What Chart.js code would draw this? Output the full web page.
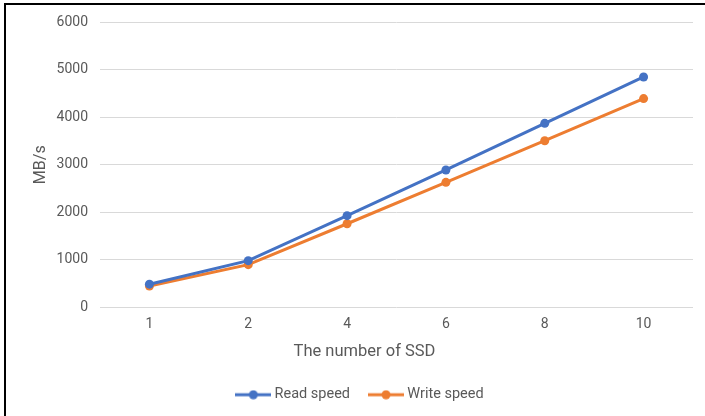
<!DOCTYPE html>
<html>
<head>
<meta charset="utf-8">
<script src="https://cdn.jsdelivr.net/npm/chart.js@4/dist/chart.umd.min.js"></script>
<style>
  body { margin: 0; background: #fff; overflow: hidden; }
  .frame {
    position: absolute; left: 4px; top: 3px;
    width: 740px; height: 460px;
    border: 2px solid #000;
  }
  .wrap { position: absolute; left: 0; top: 0; width: 705px; height: 416px; }
</style>
</head>
<body>
<div class="frame"></div>
<div class="wrap"><canvas id="chart"></canvas></div>
<script>
const categories = ['1', '2', '4', '6', '8', '10']
const readSpeed = [490, 985, 1930, 2890, 3870, 4845]
const writeSpeed = [450, 900, 1760, 2630, 3505, 4390]
const yTicks = [0, 1000, 2000, 3000, 4000, 5000, 6000]

const BLUE = '#4472C4'
const ORANGE = '#ED7D31'
const GREY = '#595959'
const FONT = 'Roboto, "Liberation Sans", sans-serif'

// little line+dot icon for the legend, like the office style
function legendIcon(color) {
  const c = document.createElement('canvas')
  c.width = 36
  c.height = 10
  const ctx = c.getContext('2d')
  ctx.strokeStyle = color
  ctx.lineWidth = 3
  ctx.beginPath()
  ctx.moveTo(0, 5)
  ctx.lineTo(36, 5)
  ctx.stroke()
  ctx.fillStyle = color
  ctx.beginPath()
  ctx.arc(18, 5, 4.5, 0, Math.PI * 2)
  ctx.fill()
  return c
}

const icons = [legendIcon(BLUE), legendIcon(ORANGE)]

// the original has the axis title and legend a bit off centre, nudge them
const nudge = {
  id: 'nudge',
  afterLayout(chart) {
    const x = chart.scales.x
    if (!x._nudged) {
      const drawTitle = x.drawTitle
      x.drawTitle = function() {
        chart.ctx.save()
        chart.ctx.translate(-32, 0)
        drawTitle.apply(this, arguments)
        chart.ctx.restore()
      }
      x._nudged = true
    }
    const legend = chart.legend
    if (!legend._nudged) {
      const draw = legend.draw
      legend.draw = function() {
        chart.ctx.save()
        chart.ctx.translate(15, 0)
        draw.apply(this, arguments)
        chart.ctx.restore()
      }
      legend._nudged = true
    }
  }
}

const ctx = document.getElementById('chart')
new Chart(ctx, {
  type: 'line',
  data: {
    labels: categories,
    datasets: [{
      label: 'Read speed',
      data: readSpeed,
      borderColor: BLUE,
      backgroundColor: BLUE,
      borderWidth: 3,
      pointRadius: 4.5,
      pointHoverRadius: 4.5,
      pointBorderWidth: 0
    },
    {
      label: 'Write speed',
      data: writeSpeed,
      borderColor: ORANGE,
      backgroundColor: ORANGE,
      borderWidth: 3,
      pointRadius: 4.5,
      pointHoverRadius: 4.5,
      pointBorderWidth: 0
    }]
  },
  plugins: [nudge],
  options: {
    responsive: true,
    maintainAspectRatio: false,
    animation: false,
    layout: { padding: { top: 22, right: 12, left: 0, bottom: 4 } },
    plugins: {
      tooltip: { enabled: false },
      legend: {
        position: 'bottom',
        labels: {
          usePointStyle: true,
          pointStyleWidth: 28,
          padding: 22,
          color: GREY,
          font: { family: FONT, size: 14.5 },
          generateLabels(chart) {
            return chart.data.datasets.map((ds, i) => ({
              text: ds.label,
              fillStyle: ds.borderColor,
              strokeStyle: ds.borderColor,
              fontColor: GREY,
              pointStyle: icons[i],
              lineWidth: 0,
              hidden: false,
              datasetIndex: i
            }))
          }
        }
      }
    },
    scales: {
      x: {
        offset: true,
        grid: { display: false, drawTicks: false },
        border: { display: false },
        ticks: { color: GREY, font: { family: FONT, size: 14 }, padding: 9 },
        title: {
          display: true,
          text: 'The number of SSD',
          color: GREY,
          font: { family: FONT, size: 16.5 },
          padding: { top: 0, bottom: 4 }
        },
        afterFit(scale) { scale.height = 58 }
      },
      y: {
        min: 0,
        max: 6000,
        afterBuildTicks(scale) { scale.ticks = yTicks.map(v => ({ value: v })) },
        grid: { color: '#D9D9D9', lineWidth: 1, drawTicks: false },
        border: { display: false },
        ticks: {
          color: GREY,
          font: { family: FONT, size: 14 },
          padding: 12,
          callback: value => String(value)
        },
        title: {
          display: true,
          text: 'MB/s',
          color: GREY,
          font: { family: FONT, size: 16 },
          padding: { top: 31, bottom: 0 }
        },
        afterFit(scale) { scale.width = 100 }
      }
    }
  }
})
</script>
</body>
</html>
